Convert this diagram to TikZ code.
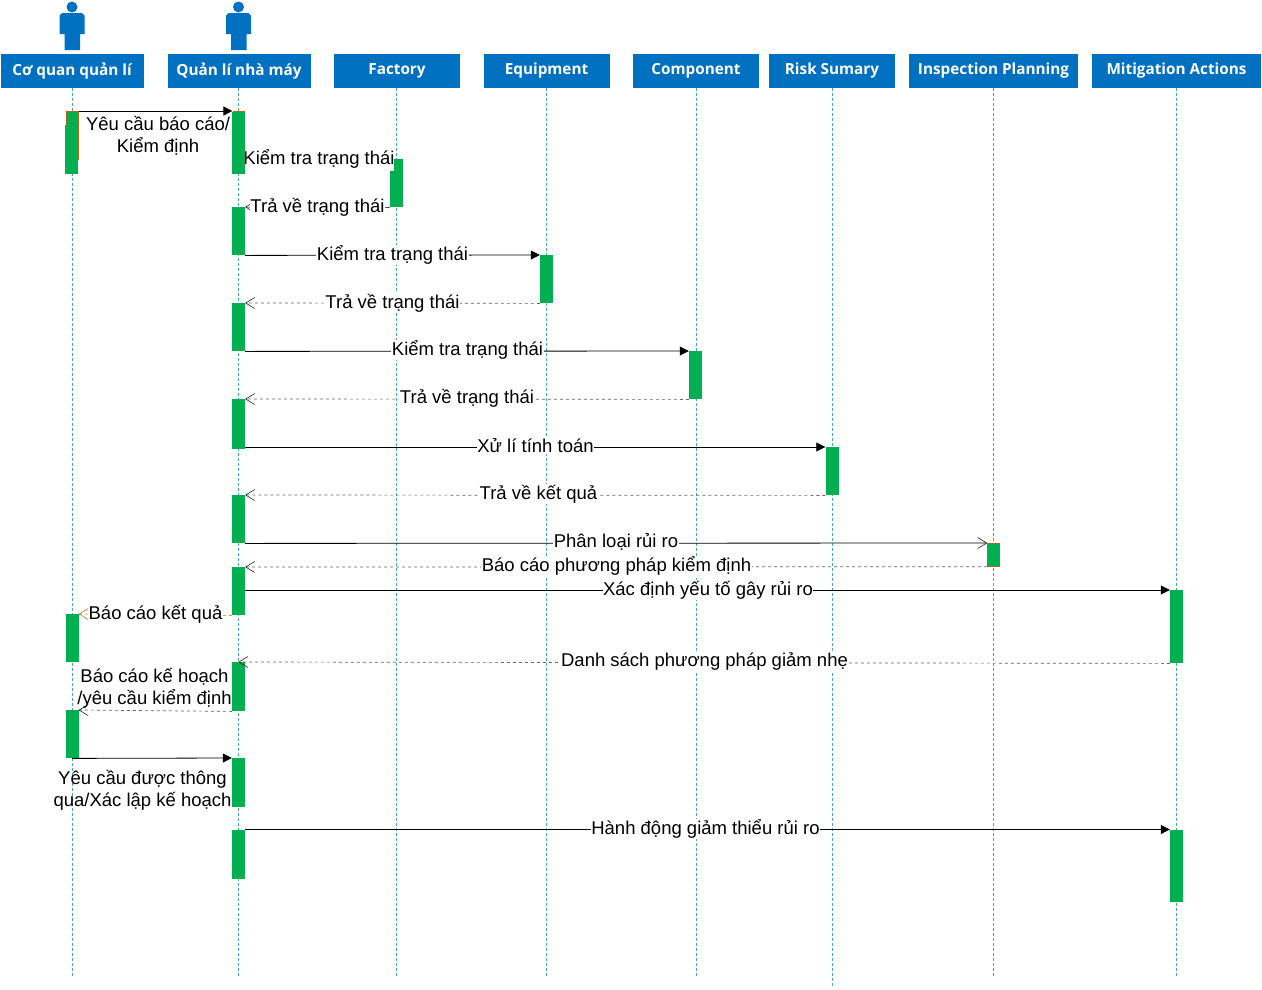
\documentclass[tikz,border=0pt]{standalone}
\usepackage{fontspec}
\setmainfont{Liberation Sans}
\newfontfamily\headfont{Open Sans}
\usepackage{xcolor}
\usetikzlibrary{arrows.meta,backgrounds,calc}
\definecolor{headblue}{HTML}{0070C0}
\definecolor{barbrown}{HTML}{B5651D}
\definecolor{bargreen}{HTML}{00B050}
\definecolor{lifeblue}{HTML}{4A9FDB}
\tikzset{
  headbox/.style={fill=headblue, text=white, minimum height=34pt, inner sep=0pt, font=\headfont\bfseries\fontsize{15.3}{17}\selectfont},
  actbar/.style={fill=bargreen, minimum width=13pt, inner sep=0pt, anchor=north},
  lifeline/.style={lifeblue, densely dashed, line width=0.7pt},
  callmsg/.style={black, line width=0.8pt, -{Triangle[length=9pt,width=9pt]}},
  openmsg/.style={black, line width=0.8pt, -{Straight Barb[length=9pt,width=11pt,line width=0.5pt]}},
  backmsg/.style={black!60, dashed, line width=0.7pt, -{Straight Barb[length=9pt,width=11pt,line width=0.5pt,black]}},
  msgtext/.style={fill=white, inner sep=0.5pt, align=center, font=\fontsize{18.5}{22}\selectfont},
}
\begin{document}
\begin{tikzpicture}[x=1pt, y=-1pt]
\useasboundingbox (0,0) rectangle (1262,989);
% Actors
\foreach \px in {72,238.5} {
  \fill[headblue] (\px,7) circle (5.5);
  \fill[headblue] (\px-10,13) -- (\px+10,13) -- (\px+12.5,15.5) -- (\px+12.5,34) -- (\px+8,34)
    -- (\px+8,50) -- (\px-7.5,50) -- (\px-7.5,34) -- (\px-12.5,34) -- (\px-12.5,15.5) -- cycle;
}
% Header boxes
\node[headbox, minimum width=143pt] (hAuthority) at (72,71) {Cơ quan quản lí};
\node[headbox, minimum width=143pt] (hManager) at (239,71) {Quản lí nhà máy};
\node[headbox, minimum width=126pt] (hFactory) at (397,71) {Factory};
\node[headbox, minimum width=126pt] (hEquipment) at (546.5,71) {Equipment};
\node[headbox, minimum width=126pt] (hComponent) at (696,71) {Component};
\node[headbox, minimum width=126pt] (hRisk) at (832,71) {Risk Sumary};
\node[headbox, minimum width=169pt] (hInspection) at (993.5,71) {Inspection Planning};
\node[headbox, minimum width=169pt] (hMitigation) at (1176.5,71) {Mitigation Actions};
% Lifelines
\foreach \name/\px/\py in {Authority/72/976,Manager/238.5/976,Factory/396.5/976,Equipment/546.5/976,Component/696/976,Risk/832/986,Inspection/993.5/976,Mitigation/1176.5/976} {
  \coordinate (e\name) at (\px,\py);
  \draw[lifeline] (h\name.south -| e\name) -- (e\name);
}
% Activation bars
\node[actbar, fill=barbrown, minimum width=12.5pt, minimum height=49pt] (aOld) at (72.5,111) {};
\node[actbar, fill=barbrown, minimum width=12.5pt, minimum height=14pt] (bOld) at (238.8,111) {};
\node[actbar, minimum height=49pt] (aBarA) at (71.5,125) {};
\node[actbar, minimum width=11pt, minimum height=14pt] (aBarTop) at (72.5,112) {};
\node[actbar, minimum width=12.6pt, minimum height=62pt] (bBarA) at (238.2,112) {};
\node[actbar, minimum width=9pt, minimum height=48pt] (fBarA) at (398.5,159) {};
\node[actbar, minimum height=36pt] (fBarB) at (396.5,171) {};
\node[actbar, minimum height=48pt] (bBarB) at (238.5,207) {};
\node[actbar, minimum height=48pt] (eBarA) at (546.5,255) {};
\node[actbar, minimum height=48pt] (bBarC) at (238.5,303) {};
\node[actbar, minimum height=48pt] (cBarA) at (695.5,351) {};
\node[actbar, minimum height=50pt] (bBarD) at (238.5,399) {};
\node[actbar, minimum height=48pt] (rBarA) at (832,447) {};
\node[actbar, minimum height=48pt] (bBarE) at (238.5,495) {};
\node[actbar, draw=barbrown, line width=0.7pt, minimum width=12pt, minimum height=23pt] (iBarA) at (993.5,543) {};
\node[actbar, minimum height=48pt] (bBarF) at (238.5,567) {};
\node[actbar, minimum height=73pt] (mBarA) at (1176.5,590) {};
\node[actbar, minimum height=48pt] (aBarB) at (72,614) {};
\node[actbar, minimum height=49pt] (bBarG) at (238.5,662) {};
\node[actbar, minimum height=48pt] (aBarC) at (72,710) {};
\node[actbar, minimum height=49pt] (bBarH) at (238.5,758) {};
\node[actbar, minimum height=49pt] (bBarI) at (238.5,829.5) {};
\node[actbar, minimum height=72pt] (mBarB) at (1176.5,829.5) {};
% Messages
\draw[callmsg] (aOld.north east) -- (bOld.north west);
\begin{scope}[on background layer]
\draw[callmsg] (bBarA.east |- fBarA.north) -- (fBarA.north west);
\node[msgtext] (tCheckF) at (319,159) {Kiểm tra trạng thái};
\end{scope}
\draw[openmsg, line width=0.5pt] (fBarB.south west) -- (bBarB.north east);
\draw[callmsg] (bBarB.south east) -- (eBarA.north west);
\draw[backmsg] (eBarA.south west) -- (bBarC.north east);
\draw[callmsg] (bBarC.south east) -- (cBarA.north west);
\draw[backmsg] (cBarA.south west) -- (bBarD.north east);
\draw[callmsg] (bBarD.east |- rBarA.north) -- (rBarA.north west);
\draw[backmsg] (rBarA.south west) -- (bBarE.north east);
\draw[openmsg] (bBarE.south east) -- (iBarA.north west);
\draw[backmsg] (iBarA.south west) -- (bBarF.north east);
\draw[callmsg] (bBarF.east |- mBarA.north) -- (mBarA.north west);
\draw[openmsg, barbrown, dashed, line width=0.6pt] (bBarF.south west) -- (aBarB.north east);
\draw[backmsg] (mBarA.south west) -- (bBarG.north);
\draw[backmsg] (bBarG.south west) -- (aBarC.north east);
\draw[callmsg] (aBarC.south) -- (bBarH.north west);
\draw[callmsg] (bBarI.north east) -- (mBarB.north west);
% Message labels
\node[msgtext, fill=none] (tAsk) at (158,135.5) {Yêu cầu báo cáo/\\Kiểm định};
\node[msgtext] (tBackF) at (317.5,207) {Trả về trạng thái};
\node[msgtext] (tCheckE) at (392.5,255) {Kiểm tra trạng thái};
\node[msgtext] (tBackE) at (392.5,303) {Trả về trạng thái};
\node[msgtext] (tCheckC) at (467.5,350) {Kiểm tra trạng thái};
\node[msgtext] (tBackC) at (467,398) {Trả về trạng thái};
\node[msgtext] (tCompute) at (535.5,446) {Xử lí tính toán};
\node[msgtext] (tResult) at (538.5,494) {Trả về kết quả};
\node[msgtext] (tClassify) at (616,542) {Phân loại rủi ro};
\node[msgtext] (tMethod) at (616.5,566) {Báo cáo phương pháp kiểm định};
\node[msgtext] (tCause) at (708,590) {Xác định yếu tố gây rủi ro};
\node[msgtext] (tReport) at (155.5,614) {Báo cáo kết quả};
\node[msgtext] (tMitigate) at (704.5,662) {Danh sách phương pháp giảm nhẹ};
\node[msgtext, fill=none] (tPlan) at (154.5,688.5) {Báo cáo kế hoạch\\/yêu cầu kiểm định};
\node[msgtext, fill=none] (tApprove) at (142.5,790) {Yêu cầu được thông\\qua/Xác lập kế hoạch};
\node[msgtext] (tAction) at (705.5,829) {Hành động giảm thiểu rủi ro};
\end{tikzpicture}
\end{document}
